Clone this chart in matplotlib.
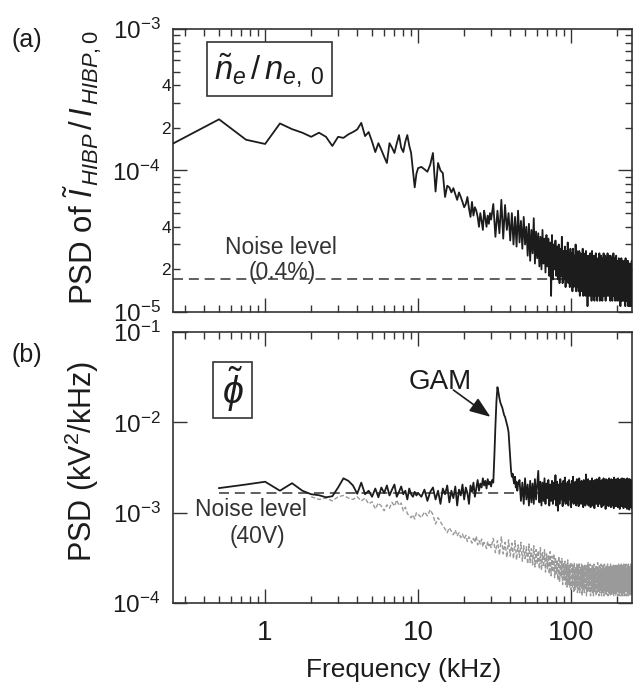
import numpy as np
import matplotlib
matplotlib.use("Agg")
import matplotlib.pyplot as plt
from matplotlib.ticker import LogLocator, FixedLocator, FuncFormatter, NullLocator, NullFormatter
from matplotlib.patches import Rectangle

plt.rcParams['font.family'] = ['Liberation Sans', 'DejaVu Sans']
plt.rcParams['mathtext.fontset'] = 'custom'
plt.rcParams['mathtext.rm'] = 'Liberation Sans'
plt.rcParams['mathtext.it'] = 'Liberation Sans:italic'
plt.rcParams['mathtext.bf'] = 'Liberation Sans:bold'


def fgrid(start, stop, step):
    return np.round(np.arange(start, stop + step / 2, step), 3)


# ---------------- (a) density fluctuation spectrum, units of 1e-6 ----------------
freq_a = np.concatenate([fgrid(0.25, 10, 0.25), fgrid(10.5, 30, 0.5), fgrid(31, 250, 1)])
psd_a_low = [155, 230, 165, 154, 215, 196, 185, 173, 185, 173,
             149, 173, 170, 180, 187, 195, 217, 175, 187, 160,
             135, 156, 140, 125, 113, 156, 145, 133, 155, 178,
             145, 135, 160, 178, 150, 133, 100, 76, 95, 104]
psd_a_mid = [106, 102, 98, 110, 133, 71, 113, 100, 96, 65,
             78, 76, 70, 75, 68, 62, 70, 65, 60, 55,
             58, 65, 54, 47, 60, 48, 55, 52, 47, 40,
             50, 44, 38, 52, 46, 40, 48, 42, 50, 45]
psd_a_high = [58, 34, 52, 36, 62, 33, 57, 38, 50, 32,
              50, 30, 47, 29, 52, 31, 44, 28, 47, 30,
              40, 25, 42, 23, 38, 26, 46, 22, 37, 24,
              36, 21, 34, 20, 38, 22, 33, 19, 35, 21,
              33, 18, 31, 13, 35, 17, 30, 20, 32, 18,
              29, 17, 30, 16, 28, 18, 34, 16, 27, 17,
              29, 15, 27, 17, 31, 16, 26, 15, 28, 17,
              26, 14, 28, 15, 25, 16, 30, 14, 27, 15,
              25, 14, 27, 13, 26, 15, 24, 14, 28, 13,
              26, 14, 24, 13, 27, 15, 23, 11, 25, 14,
              24, 13, 26, 14, 23, 12, 27, 14, 24, 13,
              25, 12, 23, 14, 26, 13, 24, 12, 22, 14,
              24, 13, 26, 12, 23, 14, 25, 13, 22, 12,
              24, 14, 26, 13, 23, 15, 25, 12, 24, 14,
              23, 13, 26, 14, 22, 13, 25, 14, 23, 12,
              25, 13, 22, 14, 24, 12, 23, 13, 26, 14,
              22, 13, 24, 12, 23, 14, 25, 13, 22, 12,
              23, 13, 21, 14, 24, 12, 22, 13, 23, 11,
              22, 13, 24, 12, 21, 13, 23, 12, 22, 13,
              21, 12, 23, 13, 22, 11, 24, 12, 21, 13,
              22, 12, 20, 13, 23, 11, 21, 12, 22, 13,
              21, 11, 22, 12, 20, 13, 21, 11, 23, 12]
psd_a = np.array(psd_a_low + psd_a_mid + psd_a_high) * 1e-6
noise_a = 1.7e-5

# ---------------- (b) potential fluctuation spectrum, units of 1e-5 ----------------
freq_b = np.concatenate([fgrid(0.5, 10, 0.25), fgrid(10.5, 45, 0.5), fgrid(46, 250, 1)])
psd_b_low = [187, 205, 220, 175, 212, 175, 160, 156, 148, 152,
             190, 240, 225, 200, 162, 215, 160, 175, 150, 185,
             148, 190, 165, 200, 155, 180, 205, 150, 170, 195,
             160, 175, 140, 185, 160, 150, 170, 155, 165]
psd_b_mid = [150, 180, 135, 170, 190, 140, 175, 125, 185, 160,
             200, 130, 175, 145, 195, 120, 180, 155, 205, 140,
             190, 165, 125, 200, 170, 215, 150, 185, 230, 175,
             210, 190, 240, 200, 225, 185, 235, 205, 220, 195,
             230, 215, 420, 900, 1700, 2450, 2150, 1850, 1650, 1550,
             1450, 1320, 1200, 1150, 1050, 950, 880, 780, 560, 400,
             290, 250, 270, 230, 210, 250, 190, 220, 175, 205]
psd_b_high = [230, 135, 215, 125, 240, 140, 205, 120, 225, 130,
              210, 125, 235, 140, 200, 290, 130, 220, 120, 215,
              135, 240, 125, 210, 145, 230, 120, 205, 135, 225,
              125, 215, 140, 260, 120, 220, 105, 205, 125, 235,
              140, 210, 118, 225, 135, 245, 125, 210, 130, 220,
              120, 230, 140, 205, 115, 225, 130, 250, 125, 215,
              135, 220, 120, 235, 130, 210, 118, 240, 135, 215,
              125, 225, 140, 205, 115, 230, 130, 220, 120, 265,
              135, 215, 125, 235, 120, 210, 140, 225, 115, 220,
              130, 240, 120, 215, 135, 225, 112, 230, 130, 210,
              125, 235, 140, 220, 118, 215, 130, 245, 125, 225,
              135, 210, 115, 230, 130, 220, 120, 240, 135, 215,
              125, 225, 110, 235, 130, 210, 120, 230, 140, 220,
              118, 240, 130, 215, 125, 225, 115, 235, 135, 210,
              120, 230, 130, 220, 112, 245, 125, 215, 135, 225,
              118, 235, 130, 210, 120, 228, 115, 240, 128, 215,
              122, 230, 110, 220, 130, 235, 118, 212, 125, 240,
              120, 225, 132, 215, 112, 238, 125, 220, 118, 230,
              128, 210, 115, 235, 122, 225, 110, 240, 130, 218,
              118, 232, 125, 212, 108, 236, 120, 225, 128, 215,
              115, 230, 122, 220, 112]
psd_b = np.array(psd_b_low + psd_b_mid + psd_b_high) * 1e-5

# background (no plasma) spectrum, units of 1e-5
freq_g = np.concatenate([fgrid(2.0, 10, 0.25), fgrid(10.5, 30, 0.5), fgrid(31, 250, 1)])
psd_g_low = [150, 140, 145, 135, 150, 155, 145, 140, 150, 135,
             145, 125, 132, 110, 128, 118, 105, 122, 112, 130,
             118, 138, 120, 128, 105, 115, 98, 92, 88, 95,
             85, 100, 96]
psd_g_mid = [88, 102, 92, 108, 95, 75, 88, 79, 72, 66,
             60, 68, 62, 57, 64, 55, 60, 53, 58, 51,
             56, 48, 54, 50, 46, 52, 47, 55, 44, 49,
             45, 51, 42, 47, 44, 40, 48, 43, 46, 41]
psd_g_high = [52, 36, 49, 34, 54, 35, 47, 32, 50, 33,
              46, 31, 49, 30, 44, 32, 47, 29, 43, 31,
              42, 27, 45, 28, 40, 26, 43, 25, 39, 27,
              38, 24, 41, 23, 36, 25, 39, 22, 35, 24,
              34, 21, 37, 20, 33, 22, 35, 19, 32, 21,
              30, 18, 33, 17, 29, 19, 31, 16, 28, 18,
              29, 16, 27, 15, 30, 16, 26, 15, 28, 14,
              27, 15, 26, 13, 28, 14, 25, 15, 27, 13,
              26, 14, 28, 13, 25, 15, 27, 12, 26, 14,
              25, 13, 27, 14, 24, 12, 26, 13, 28, 14,
              25, 13, 27, 12, 24, 14, 26, 13, 25, 12,
              27, 13, 24, 14, 26, 12, 25, 13, 28, 14,
              24, 12, 26, 13, 25, 14, 27, 12, 24, 13,
              26, 13, 25, 12, 27, 14, 24, 13, 26, 12,
              25, 14, 27, 12, 24, 13, 26, 14, 25, 12,
              27, 13, 24, 12, 26, 14, 25, 13, 27, 12,
              24, 13, 26, 14, 25, 12, 27, 13, 24, 14,
              26, 12, 25, 13, 27, 14, 24, 12, 26, 13,
              25, 14, 27, 12, 24, 13, 26, 12, 25, 14,
              27, 13, 24, 12, 26, 14, 25, 13, 27, 12,
              24, 14, 26, 13, 25, 12, 27, 13, 24, 14,
              26, 12, 25, 13, 27, 14, 24, 12, 26, 13]
psd_g = np.array(psd_g_low + psd_g_mid + psd_g_high) * 1e-5
noise_b = 1.65e-3
noise_b_start = 0.5

x_ticks = [1, 10, 100]
x_tick_labels = ['1', '10', '100']

INK = '#1c1c1c'
FRAME = '#333333'

fig = plt.figure(figsize=(6.4, 6.87), dpi=100)
W, H = 640.0, 687.0


def fpos(x, y):
    return x / W, 1 - y / H


ax1 = fig.add_axes([173 / W, 1 - 312 / H, 459 / W, 283 / H])
ax2 = fig.add_axes([173 / W, 1 - 603 / H, 459 / W, 271 / H])

for ax in (ax1, ax2):
    ax.set_xscale('log')
    ax.set_yscale('log')
    ax.set_xlim(0.25, 250)
    for s in ax.spines.values():
        s.set_color(FRAME)
        s.set_linewidth(1.2)
    ax.xaxis.set_major_locator(FixedLocator(x_ticks))
    ax.xaxis.set_minor_locator(LogLocator(base=10, subs=np.arange(2, 10), numticks=20))
    ax.xaxis.set_minor_formatter(NullFormatter())
    ax.tick_params(which='both', direction='in', top=True, right=True,
                   color=FRAME, width=1.0, labelcolor=INK)
    ax.tick_params(which='major', length=10)
    ax.tick_params(which='minor', length=5)
    ax.tick_params(axis='y', which='major', labelsize=17.5, pad=9)
    ax.tick_params(axis='y', which='minor', labelsize=12.5, pad=1.5)


def pow_label(v, pos):
    return r'$10^{%d}$' % int(round(np.log10(v)))


def minor_label(v, pos):
    m = v / 10 ** np.floor(np.log10(v) + 1e-9)
    if abs(m - 2) < 0.01:
        return '2'
    if abs(m - 4) < 0.01:
        return '4'
    return ''


# ---- panel (a)
ax1.set_ylim(1e-5, 1e-3)
ax1.yaxis.set_major_locator(FixedLocator([1e-5, 1e-4, 1e-3]))
ax1.yaxis.set_major_formatter(FuncFormatter(pow_label))
ax1.yaxis.set_minor_locator(LogLocator(base=10, subs=np.arange(2, 10), numticks=20))
ax1.yaxis.set_minor_formatter(FuncFormatter(minor_label))
ax1.tick_params(axis='x', which='both', labelbottom=False)

ax1.axhline(noise_a, color='#444444', lw=1.2, dashes=(6, 3.5), zorder=2)
ax1.plot(freq_a, psd_a, color=INK, lw=1.3, zorder=3)

ax1.add_patch(Rectangle((0.074, 0.763), 0.272, 0.191, transform=ax1.transAxes,
                        facecolor='white', edgecolor=FRAME, lw=1.2, zorder=4))
ax1.text(0.21, 0.853, r'$\tilde{n}_e\,/\,n_{e,\;0}$', transform=ax1.transAxes,
         ha='center', va='center', fontsize=23.5, color=INK, zorder=5)

fig.text(*fpos(281, 248), 'Noise level', ha='center', va='center', fontsize=16.5, color='#333333')
fig.text(*fpos(282, 272), '(0.4%)', ha='center', va='center', fontsize=16.5, color='#333333')

# ---- panel (b)
ax2.set_ylim(1e-4, 1e-1)
ax2.yaxis.set_major_locator(FixedLocator([1e-4, 1e-3, 1e-2, 1e-1]))
ax2.yaxis.set_major_formatter(FuncFormatter(pow_label))
ax2.yaxis.set_minor_locator(NullLocator())
ax2.set_xticks(x_ticks)
ax2.set_xticklabels(x_tick_labels)
ax2.tick_params(axis='x', which='major', labelsize=20, pad=12)

ax2.plot(freq_g, psd_g, color='#9a9a9a', lw=1.0, linestyle=(0, (3, 1.5)), zorder=2)
ax2.plot([noise_b_start, 250], [noise_b, noise_b], color='#444444', lw=1.2,
         dashes=(6, 3.5), zorder=3)
ax2.plot(freq_b, psd_b, color=INK, lw=1.3, zorder=4)

ax2.add_patch(Rectangle((0.087, 0.683), 0.085, 0.206, transform=ax2.transAxes,
                        facecolor='white', edgecolor=FRAME, lw=1.2, zorder=4))
ax2.text(0.13, 0.79, r'$\tilde{\phi}$', transform=ax2.transAxes,
         ha='center', va='center', fontsize=27, color=INK, zorder=5)

ax2.text(14.0, 0.028, 'GAM', ha='center', va='center', fontsize=20, color=INK)
ax2.annotate('', xy=(29.7, 0.0115), xytext=(17.0, 0.0228),
             arrowprops=dict(arrowstyle='-|>,head_length=0.8,head_width=0.3',
                             mutation_scale=16, color=INK, lw=1.2,
                             shrinkA=0, shrinkB=0))

fig.text(*fpos(251, 510), 'Noise level', ha='center', va='center', fontsize=16.5, color='#333333')
fig.text(*fpos(257, 537), '(40V)', ha='center', va='center', fontsize=16.5, color='#333333')

# ---- labels
fig.text(*fpos(27, 40), '(a)', ha='center', va='center', fontsize=18, color=INK)
fig.text(*fpos(27, 355), '(b)', ha='center', va='center', fontsize=18, color=INK)
fig.text(*fpos(83, 168), r'PSD of $\tilde{I}_{\,HIBP}\,/\,I_{\,HIBP,0}$',
         rotation=90, ha='center', va='center', fontsize=22.5, color=INK)
fig.text(*fpos(82, 461), r'PSD (kV$^2$/kHz)',
         rotation=90, ha='center', va='center', fontsize=22, color=INK)
fig.text(*fpos(404, 670), 'Frequency (kHz)', ha='center', va='center', fontsize=19, color=INK)

fig.savefig('out.png', dpi=100)
